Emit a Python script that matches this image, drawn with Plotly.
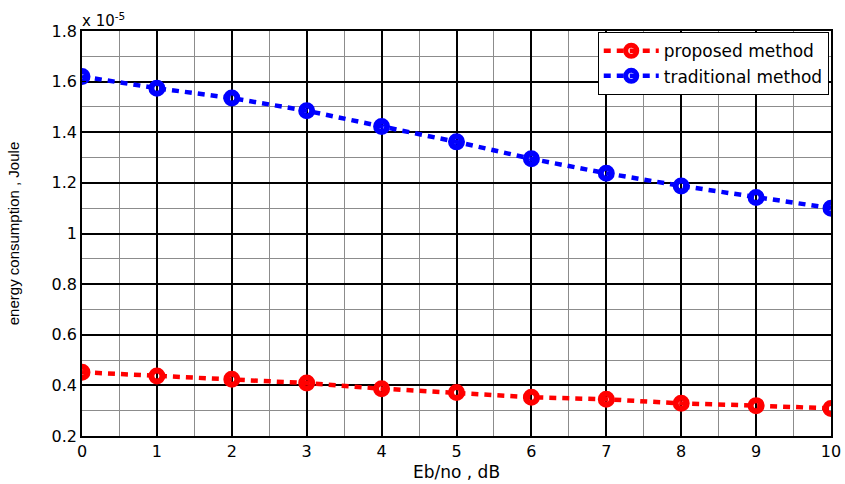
import plotly.graph_objects as go

# Eb/No sweep (dB)
eb_no_db = [0, 1, 2, 3, 4, 5, 6, 7, 8, 9, 10]

# Energy consumption in units of 1e-5 Joule
proposed_e5 = [0.452, 0.437, 0.424, 0.409, 0.387, 0.372, 0.353, 0.345, 0.329, 0.320, 0.309]
traditional_e5 = [1.620, 1.574, 1.535, 1.485, 1.423, 1.362, 1.295, 1.238, 1.188, 1.142, 1.100]

y_ticks = [0.2, 0.4, 0.6, 0.8, 1.0, 1.2, 1.4, 1.6, 1.8]
y_tick_text = ["0.2", "0.4", "0.6", "0.8", "1", "1.2", "1.4", "1.6", "1.8"]
x_ticks = list(range(0, 11))

tick_font = dict(family="DejaVu Sans", size=16, color="black")


def series(name, y, color):
    return go.Scatter(
        x=eb_no_db, y=y, name=name, mode="lines+markers",
        line=dict(color=color, width=4.5, dash="7px,6px"),
        marker=dict(symbol="circle-open", size=11, color=color,
                    line=dict(color=color, width=6)),
    )


fig = go.Figure()
fig.add_trace(series("proposed method", proposed_e5, "#ff0000"))
fig.add_trace(series("traditional method", traditional_e5, "#0000ff"))

axis_common = dict(
    showline=True, linecolor="black", linewidth=1.5, mirror="ticks",
    ticks="inside", ticklen=4, tickcolor="black", tickwidth=1,
    showgrid=True, gridcolor="black", gridwidth=1.5,
    zeroline=False, tickfont=tick_font, automargin=False,
)

fig.update_xaxes(
    range=[0, 10], tickvals=x_ticks,
    minor=dict(dtick=0.5, showgrid=True, gridcolor="#8c8c8c", gridwidth=1, ticks=""),
    title=dict(text="Eb/no , dB", font=dict(family="DejaVu Sans", size=17, color="black"),
               standoff=6),
    **axis_common,
)
fig.update_yaxes(
    range=[0.2, 1.8], tickvals=y_ticks, ticktext=y_tick_text,
    minor=dict(dtick=0.1, showgrid=True, gridcolor="#8c8c8c", gridwidth=1, ticks=""),
    title=dict(text="energy consumption , Joule",
               font=dict(family="Liberation Sans", size=15, color="black"),
               standoff=28),
    **axis_common,
)

fig.add_annotation(
    text="x 10<sup>-5</sup>", xref="paper", yref="paper", x=0, y=1,
    xanchor="left", yanchor="bottom", showarrow=False, xshift=-2, yshift=-1,
    font=dict(family="DejaVu Sans", size=15, color="black"),
)

fig.update_layout(
    width=845, height=484,
    margin=dict(l=82, r=14, t=31, b=48),
    paper_bgcolor="white", plot_bgcolor="white",
    legend=dict(
        x=0.997, y=0.997, xanchor="right", yanchor="top",
        bgcolor="white", bordercolor="black", borderwidth=1,
        font=dict(family="DejaVu Sans", size=17, color="black"),
        tracegroupgap=0, itemwidth=55, entrywidth=215, entrywidthmode="pixels",
    ),
)

fig.write_html("out.html")
